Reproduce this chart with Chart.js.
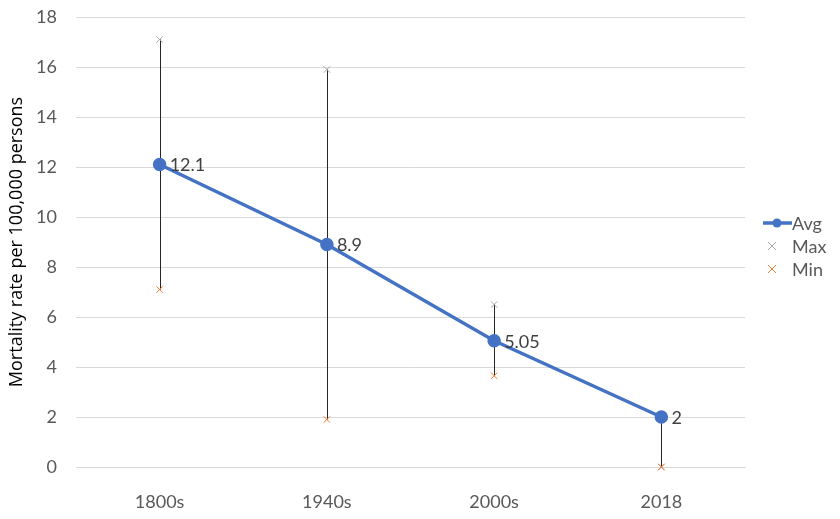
<!DOCTYPE html>
<html>
<head>
<meta charset="utf-8">
<script src="https://cdn.jsdelivr.net/npm/chart.js@4.4.1/dist/chart.umd.min.js"></script>
<style>
html,body{margin:0;padding:0;background:#fff;}
#wrap{width:840px;height:519px;position:relative;}
</style>
</head>
<body>
<div id="wrap"><canvas id="c" width="840" height="519"></canvas></div>
<script>
const categories = ["1800s", "1940s", "2000s", "2018"];
const avgValues = [12.1, 8.9, 5.05, 2];
const maxValues = [17.1, 15.9, 6.5, 0];
const minValues = [7.1, 1.9, 3.65, 0];
const avgLabels = ["12.1", "8.9", "5.05", "2"];
const yTicks = [0, 2, 4, 6, 8, 10, 12, 14, 16, 18];
const seriesNames = ["Avg", "Max", "Min"];

const FONT = "Lato, 'Open Sans', sans-serif";
const BLUE = "#4472C4", GRAY = "#A5A5A5", ORANGE = "#ED7D31";

const hiLowPlugin = {
  id: 'hilow',
  beforeDatasetsDraw(chart) {
    const ctx = chart.ctx, x = chart.scales.x, y = chart.scales.y;
    ctx.save();
    ctx.strokeStyle = '#262626';
    ctx.lineWidth = 1;
    categories.forEach((c, i) => {
      const vals = chart.data.datasets.map(d => d.data[i]);
      const hi = Math.max(...vals), lo = Math.min(...vals);
      const px = Math.round(x.getPixelForValue(i)) + 0.5;
      ctx.beginPath();
      ctx.moveTo(px, y.getPixelForValue(hi));
      ctx.lineTo(px, y.getPixelForValue(lo));
      ctx.stroke();
    });
    ctx.restore();
  },
  afterDatasetsDraw(chart) {
    const ctx = chart.ctx, x = chart.scales.x, y = chart.scales.y;
    ctx.save();
    ctx.font = "18px " + FONT;
    ctx.fillStyle = '#404040';
    ctx.textAlign = 'left';
    ctx.textBaseline = 'middle';
    avgValues.forEach((v, i) => {
      ctx.fillText(avgLabels[i], x.getPixelForValue(i) + 10, y.getPixelForValue(v) + 1);
    });
    // legend
    const lx = 763, ly = [223, 246, 269];
    ctx.fillStyle = '#595959';
    ctx.strokeStyle = BLUE; ctx.lineWidth = 3.5;
    ctx.beginPath(); ctx.moveTo(lx, ly[0]); ctx.lineTo(lx + 29, ly[0]); ctx.stroke();
    ctx.fillStyle = BLUE;
    ctx.beginPath(); ctx.arc(lx + 14, ly[0], 4.5, 0, Math.PI * 2); ctx.fill();
    ctx.fillStyle = '#595959';
    ctx.fillText(seriesNames[0], lx + 29, ly[0] + 1);
    [[GRAY, 1], [ORANGE, 2]].forEach(([col, k]) => {
      ctx.strokeStyle = col; ctx.lineWidth = 1;
      const cx = lx + 9, cy = ly[k], r = 4;
      ctx.beginPath();
      ctx.moveTo(cx - r, cy - r); ctx.lineTo(cx + r, cy + r);
      ctx.moveTo(cx + r, cy - r); ctx.lineTo(cx - r, cy + r);
      ctx.stroke();
      ctx.fillText(seriesNames[k], lx + 29, cy + 1);
    });
    ctx.restore();
  }
};

new Chart(document.getElementById('c'), {
  type: 'line',
  data: {
    labels: categories,
    datasets: [
      { label: seriesNames[0], data: avgValues, borderColor: BLUE, backgroundColor: BLUE,
        borderWidth: 3.5, pointRadius: 5, pointHoverRadius: 5, pointBackgroundColor: BLUE,
        pointBorderColor: BLUE, tension: 0, order: 3, clip: false },
      { label: seriesNames[1], data: maxValues, showLine: false, pointStyle: 'crossRot',
        pointRadius: 4.5, borderColor: GRAY, pointBorderColor: GRAY, pointBorderWidth: 1, order: 2, clip: false },
      { label: seriesNames[2], data: minValues, showLine: false, pointStyle: 'crossRot',
        pointRadius: 4.5, borderColor: ORANGE, pointBorderColor: ORANGE, pointBorderWidth: 1, order: 1, clip: false }
    ]
  },
  options: {
    responsive: false,
    animation: false,
    devicePixelRatio: 1,
    layout: { padding: { top: 17, right: 95, left: 0, bottom: 0 }, autoPadding: false },
    plugins: { legend: { display: false }, tooltip: { enabled: false } },
    scales: {
      x: {
        offset: true,
        grid: { display: false },
        border: { display: true, color: '#D9D9D9' },
        ticks: { color: '#595959', font: { family: FONT, size: 18 }, padding: 16 },
        afterFit(s) { s.height = 52; s.paddingLeft = 0; s.paddingRight = 0; }
      },
      y: {
        min: 0, max: 18,
        afterBuildTicks(s) { s.ticks = yTicks.map(v => ({ value: v })); },
        grid: { color: '#D9D9D9', lineWidth: 1, drawTicks: false },
        border: { display: false },
        ticks: { color: '#595959', font: { family: FONT, size: 18 }, padding: 19 },
        title: { display: true, text: 'Mortality rate per 100,000 persons', color: '#000',
                 font: { family: "'Open Sans', sans-serif", size: 18 }, padding: { top: 6, bottom: 4 } },
        afterFit(s) { s.width = 76; s.paddingTop = 0; s.paddingBottom = 0; }
      }
    }
  },
  plugins: [hiLowPlugin]
});
</script>
</body>
</html>
